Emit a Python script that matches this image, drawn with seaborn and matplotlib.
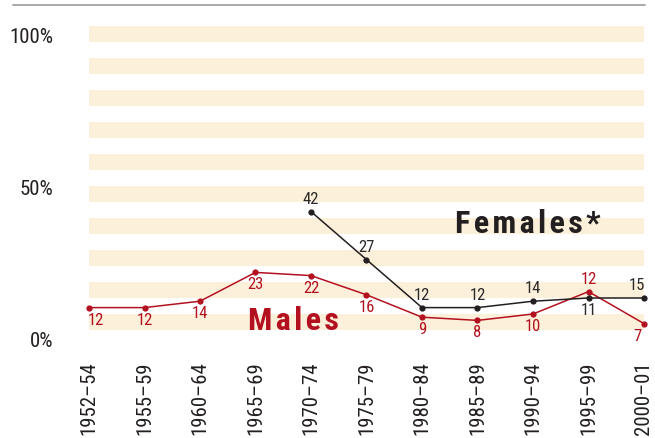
import matplotlib
matplotlib.use("Agg")
import matplotlib.pyplot as plt
from matplotlib.lines import Line2D
import seaborn as sns
import numpy as np
import pandas as pd

# ---- data ----
periods = ["1952–54", "1955–59", "1960–64", "1965–69", "1970–74", "1975–79",
           "1980–84", "1985–89", "1990–94", "1995–99", "2000–01"]
males = [12, 12, 14, 23, 22, 16, 9, 8, 10, 17, 7]
males_labels = ["12", "12", "14", "23", "22", "16", "9", "8", "10", "12", "7"]
females = [np.nan, np.nan, np.nan, np.nan, 42, 27, 12, 12, 14, 15, 15]
females_labels = ["", "", "", "", "42", "27", "12", "12", "14", "11", "15"]
ytick_labels = ["0%", "50%", "100%"]

# label placement (style)
males_place = ["b", "b", "b", "b", "b", "b", "b", "b", "b", "a", "b"]
females_place = ["a", "a", "a", "a", "a", "a", "a", "a", "a", "b", "a"]

RED = "#B3111F"
BLACK = "#231F20"
BEIGE = "#FDF0DA"
FONT = ["Roboto Condensed", "DejaVu Sans"]

sns.set_theme(style="white")
plt.rcParams["font.family"] = FONT

fig = plt.figure(figsize=(6.55, 4.38), dpi=100)
ax = fig.add_axes([89/655, 1-346/438, (644-89)/655, (346-26)/438])

x = np.arange(len(periods))
df_m = pd.DataFrame({"x": x, "v": males})
df_f = pd.DataFrame({"x": x, "v": females}).dropna()

for lo in range(5, 100, 10):
    ax.axhspan(lo, lo + 5, color=BEIGE, lw=0, zorder=0)

sns.lineplot(data=df_m, x="x", y="v", ax=ax, color=RED, lw=1.1, marker="o",
             markersize=4.5, markeredgewidth=0, clip_on=False, zorder=3)
sns.lineplot(data=df_f, x="x", y="v", ax=ax, color=BLACK, lw=1.1, marker="o",
             markersize=4.5, markeredgewidth=0, clip_on=False, zorder=3)

n = len(periods)
def place(vals, labs, plc, col):
    for i, (v, l, p) in enumerate(zip(vals, labs, plc)):
        if not l:
            continue
        dy = 9 if p == "a" else -9
        dx = 5 if i == 0 else (-5 if i == n - 1 else 0)
        ax.annotate(l, (x[i], v), xytext=(dx, dy), textcoords="offset points",
                    ha="center", va="center", fontsize=12, color=col, zorder=4)

place(males, males_labels, males_place, RED)
place(females, females_labels, females_place, "#2a2a2a")

sp = "\u200a"
ax.text(2.86, 5.0, sp.join("Males"), color=RED, fontsize=23, fontweight="bold",
        ha="left", va="baseline")
ax.text(6.59, 35.3, sp.join("Females*"), color=BLACK, fontsize=23, fontweight="bold",
        ha="left", va="baseline")

ax.set_xlim(0, n - 1)
ax.set_ylim(0, 100)
ax.set_xticks(x)
ax.set_xticklabels(periods, rotation=90, fontsize=15, color="#231F20")
ax.set_yticks([1.9, 49.4, 96.9])
ax.set_yticklabels(ytick_labels, fontsize=15, color="#231F20")
ax.tick_params(axis="x", length=0, pad=11)
ax.tick_params(axis="y", length=0, pad=26)
ax.set_xlabel("")
ax.set_ylabel("")
for s in ax.spines.values():
    s.set_visible(False)
ax.set_facecolor("white")

fig.add_artist(Line2D([13/655, 645/655], [1-5/438, 1-5/438], color="#9a9a9a",
                      lw=1.2, transform=fig.transFigure))

fig.savefig("out.png", dpi=100)
